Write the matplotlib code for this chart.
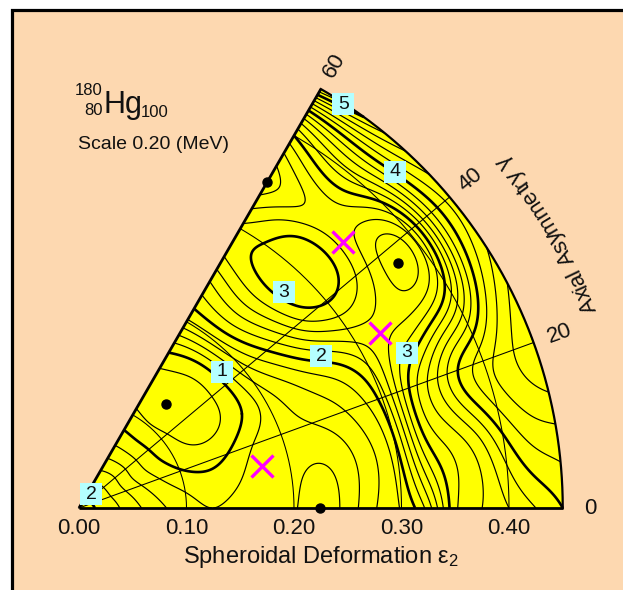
import numpy as np
import matplotlib
matplotlib.use('Agg')
import matplotlib.pyplot as plt
from matplotlib.patches import Polygon, Rectangle
from matplotlib.font_manager import FontProperties, findfont
from matplotlib.ft2font import FT2Font

plt.rcParams['font.family'] = ['Liberation Sans', 'DejaVu Sans']
plt.rcParams['mathtext.fontset'] = 'custom'
plt.rcParams['mathtext.rm'] = 'Liberation Sans'
plt.rcParams['mathtext.it'] = 'Liberation Sans:italic'

# ---------------- data ----------------
eps_grid = [0.0, 0.025, 0.05, 0.075, 0.10, 0.125, 0.15, 0.175, 0.20, 0.225,
            0.25, 0.275, 0.30, 0.325, 0.35, 0.375, 0.40, 0.425, 0.45]
gamma_grid = [0, 10, 20, 30, 40, 50, 60]
E_g0  = [2.10, 1.92, 1.68, 1.45, 1.28, 1.20, 1.27, 1.30, 1.22, 1.10, 1.28, 1.58, 1.82, 2.30, 3.15, 3.40, 3.60, 3.80, 4.00]
E_g10 = [2.10, 1.90, 1.62, 1.36, 1.18, 1.10, 1.18, 1.30, 1.26, 1.19, 1.30, 1.55, 1.95, 2.85, 3.25, 3.55, 4.00, 4.30, 4.40]
E_g20 = [2.10, 1.88, 1.55, 1.25, 1.02, 0.93, 1.02, 1.22, 1.32, 1.38, 1.50, 1.70, 2.10, 2.95, 3.50, 4.00, 4.30, 4.55, 4.80]
E_g30 = [2.10, 1.87, 1.50, 1.15, 0.90, 0.78, 0.80, 1.00, 1.30, 1.55, 1.80, 2.05, 2.35, 2.55, 2.60, 2.75, 3.20, 4.00, 4.50]
E_g40 = [2.10, 1.86, 1.50, 1.12, 0.85, 0.73, 0.75, 0.95, 1.50, 1.95, 2.40, 2.85, 3.02, 2.92, 2.60, 2.30, 2.65, 3.70, 4.30]
E_g50 = [2.10, 1.85, 1.48, 1.10, 0.82, 0.70, 0.75, 1.00, 1.70, 2.25, 2.70, 3.05, 3.12, 3.02, 2.70, 2.85, 3.30, 4.00, 4.75]
E_g60 = [2.10, 1.82, 1.45, 1.10, 0.85, 0.72, 0.80, 1.15, 1.75, 2.15, 2.50, 2.85, 2.85, 2.55, 2.30, 2.50, 3.00, 3.90, 5.40]

contour_step = 0.2
max_level = 6.0

minima_eps = [0.350, 0.374, 0.126, 0.224]
minima_gamma = [60.0, 37.5, 50.0, 0.0]
saddle_eps = [0.349, 0.324, 0.175]
saddle_gamma = [45.2, 30.2, 12.9]

level_labels = ['1', '2', '2', '3', '3', '4', '5']
label_eps = [0.1836, 0.0171, 0.266, 0.277, 0.3375, 0.429, 0.449]
label_gamma = [43.6, 49.4, 32.1, 46.5, 25.3, 46.8, 56.8]

eps_ticks = [0.0, 0.1, 0.2, 0.3, 0.4]
eps_tick_labels = ['0.00', '0.10', '0.20', '0.30', '0.40']
gamma_ticks = [0, 20, 40, 60]
grid_arcs = [0.1, 0.2, 0.3, 0.4]
grid_rays = [20, 40]
eps_max = 0.45

nucleus_A, nucleus_Z, nucleus_N, nucleus_sym = '180', '80', '100', 'Hg'
scale_text = 'Scale 0.20 (MeV)'
xlabel_text = r'Spheroidal Deformation $\mathrm{\varepsilon}_2$'
gamma_label = 'Axial Asymmetry \u03b3'

# ---------------- figure geometry ----------------
W, H, DPI = 623, 590, 100
PX = 1075.0          # pixels per unit of deformation
OX, OY = 79.0, 508.0  # pixel position of origin

def p2d(px, py):
    return (px - OX) / PX, (OY - py) / PX

fig = plt.figure(figsize=(W / DPI, H / DPI), dpi=DPI)
fig.patch.set_facecolor('white')
ax = fig.add_axes([0, 0, 1, 1])
xa, ya = p2d(0, H)
xb, yb = p2d(W, 0)
ax.set_xlim(xa, xb)
ax.set_ylim(ya, yb)
ax.axis('off')

peach = '#FDD8B0'
bx, by = p2d(12, 10)
ax.add_patch(Rectangle((bx, ya - 0.05), xb - bx + 0.05, by - ya + 0.05, facecolor=peach,
                       edgecolor='none', zorder=0))
ax.plot([bx, bx, xb + 0.01], [ya - 0.01, by, by], color='black', lw=2.3, zorder=1,
        solid_joinstyle='miter')

# ---------------- smooth surface ----------------
def natural_spline(x, y, xf):
    x = np.asarray(x, float); y = np.asarray(y, float)
    n = len(x); h = np.diff(x)
    A = np.zeros((n, n)); b = np.zeros(n)
    A[0, 0] = 1; A[-1, -1] = 1
    for i in range(1, n - 1):
        A[i, i - 1] = h[i - 1]; A[i, i] = 2 * (h[i - 1] + h[i]); A[i, i + 1] = h[i]
        b[i] = 6 * ((y[i + 1] - y[i]) / h[i] - (y[i] - y[i - 1]) / h[i - 1])
    m = np.linalg.solve(A, b)
    idx = np.clip(np.searchsorted(x, xf) - 1, 0, n - 2)
    x0 = x[idx]; x1 = x[idx + 1]; hh = x1 - x0
    ta = x1 - xf; tb = xf - x0
    return (m[idx] * ta ** 3 + m[idx + 1] * tb ** 3) / (6 * hh) + \
        (y[idx] / hh - m[idx] * hh / 6) * ta + (y[idx + 1] / hh - m[idx + 1] * hh / 6) * tb

def spline_matrix(xk, xf):
    n = len(xk)
    M = np.zeros((len(xf), n))
    for j in range(n):
        e = np.zeros(n); e[j] = 1
        M[:, j] = natural_spline(xk, e, xf)
    return M

E = np.array([E_g0, E_g10, E_g20, E_g30, E_g40, E_g50, E_g60])
eps_f = np.linspace(0, eps_max, 361)
gam_f = np.linspace(0, 60, 241)
Z = spline_matrix(gamma_grid, gam_f) @ E @ spline_matrix(eps_grid, eps_f).T
EF, GF = np.meshgrid(eps_f, gam_f)
X = EF * np.cos(np.radians(GF))
Y = EF * np.sin(np.radians(GF))

th = np.radians(np.linspace(0, 60, 200))
sector = np.vstack([[0, 0], np.column_stack([eps_max * np.cos(th), eps_max * np.sin(th)])])
ax.add_patch(Polygon(sector, closed=True, facecolor='#FFFF00', edgecolor='none', zorder=2))

levels = np.round(np.arange(contour_step, max_level + 1e-9, contour_step), 3)
thick = [l for l in levels if abs(l - round(l)) < 1e-6]
thin = [l for l in levels if abs(l - round(l)) >= 1e-6]
ax.contour(X, Y, Z, levels=thin, colors='black', linewidths=0.85, zorder=3)
ax.contour(X, Y, Z, levels=thick, colors='black', linewidths=1.9, zorder=3)

for r in grid_arcs:
    ax.plot(r * np.cos(th), r * np.sin(th), color='black', lw=0.75, zorder=4)
for g in grid_rays:
    ax.plot([0, eps_max * np.cos(np.radians(g))], [0, eps_max * np.sin(np.radians(g))],
            color='black', lw=0.75, zorder=4)

ax.plot(eps_max * np.cos(th), eps_max * np.sin(th), color='black', lw=1.6, zorder=5)
ax.plot([0, eps_max], [0, 0], color='black', lw=2.0, zorder=5, solid_capstyle='butt')
ax.plot([0, eps_max * np.cos(np.radians(60))], [0, eps_max * np.sin(np.radians(60))],
        color='black', lw=2.0, zorder=5, solid_capstyle='butt')

me = np.array(minima_eps); mg = np.radians(minima_gamma)
ax.plot(me * np.cos(mg), me * np.sin(mg), 'o', color='black', ms=6.5, zorder=7)
se = np.array(saddle_eps); sg = np.radians(saddle_gamma)
ax.plot(se * np.cos(sg), se * np.sin(sg), 'x', color='#FF00FF', ms=16, mew=2.4, zorder=7)

bw, bh = 22 / PX, 22 / PX
for t, le, lg in zip(level_labels, label_eps, label_gamma):
    cx = le * np.cos(np.radians(lg)); cy = le * np.sin(np.radians(lg))
    ax.add_patch(Rectangle((cx - bw / 2, cy - bh / 2), bw, bh, facecolor='#B4FFFF',
                           edgecolor='none', zorder=8))
    ax.text(cx, cy, t, ha='center', va='center', fontsize=14, color='#111111', zorder=9)

for v, s in zip(eps_ticks, eps_tick_labels):
    ax.text(v, p2d(0, 528)[1], s, ha='center', va='center', fontsize=16, color='#111111')
ax.text(p2d(320.5, 0)[0], p2d(0, 557)[1], xlabel_text, ha='center', va='center',
        fontsize=17, color='#111111')

r_tick = 511 / PX
for g in gamma_ticks:
    ax.text(r_tick * np.cos(np.radians(g)), r_tick * np.sin(np.radians(g)), str(g),
            ha='center', va='center', rotation=g, rotation_mode='anchor',
            fontsize=16, color='#111111')

fs_g = 16
font = FT2Font(findfont(FontProperties(family='Liberation Sans')), hinting_factor=1)
font.set_size(fs_g, DPI)
adv = []
for c in gamma_label:
    gl = font.load_char(ord(c))
    adv.append(gl.linearHoriAdvance / 65536.0)
adv = np.array(adv)
R_base = 554.0
L = adv.sum()
theta_mid = np.radians(30.3)
start = theta_mid - (L / 2) / R_base
cum = np.concatenate([[0], np.cumsum(adv)])
for i, c in enumerate(gamma_label):
    if c == ' ':
        continue
    t = start + (cum[i] + adv[i] / 2) / R_base
    xd = (R_base / PX) * np.cos(t); yd = (R_base / PX) * np.sin(t)
    ax.text(xd, yd, c, ha='center', va='baseline', rotation=np.degrees(t) + 90,
            rotation_mode='anchor', fontsize=fs_g, color='#111111')

ax.text(*p2d(103, 113), nucleus_sym, ha='left', va='baseline', fontsize=22, color='#111111')
ax.text(*p2d(103, 95), nucleus_A, ha='right', va='baseline', fontsize=12, color='#111111')
ax.text(*p2d(103, 115), nucleus_Z, ha='right', va='baseline', fontsize=12, color='#111111')
ax.text(*p2d(141, 117), nucleus_N, ha='left', va='baseline', fontsize=12, color='#111111')
ax.text(*p2d(78, 149), scale_text, ha='left', va='baseline', fontsize=14, color='#111111')

fig.savefig('out.png', dpi=DPI, facecolor='white')
